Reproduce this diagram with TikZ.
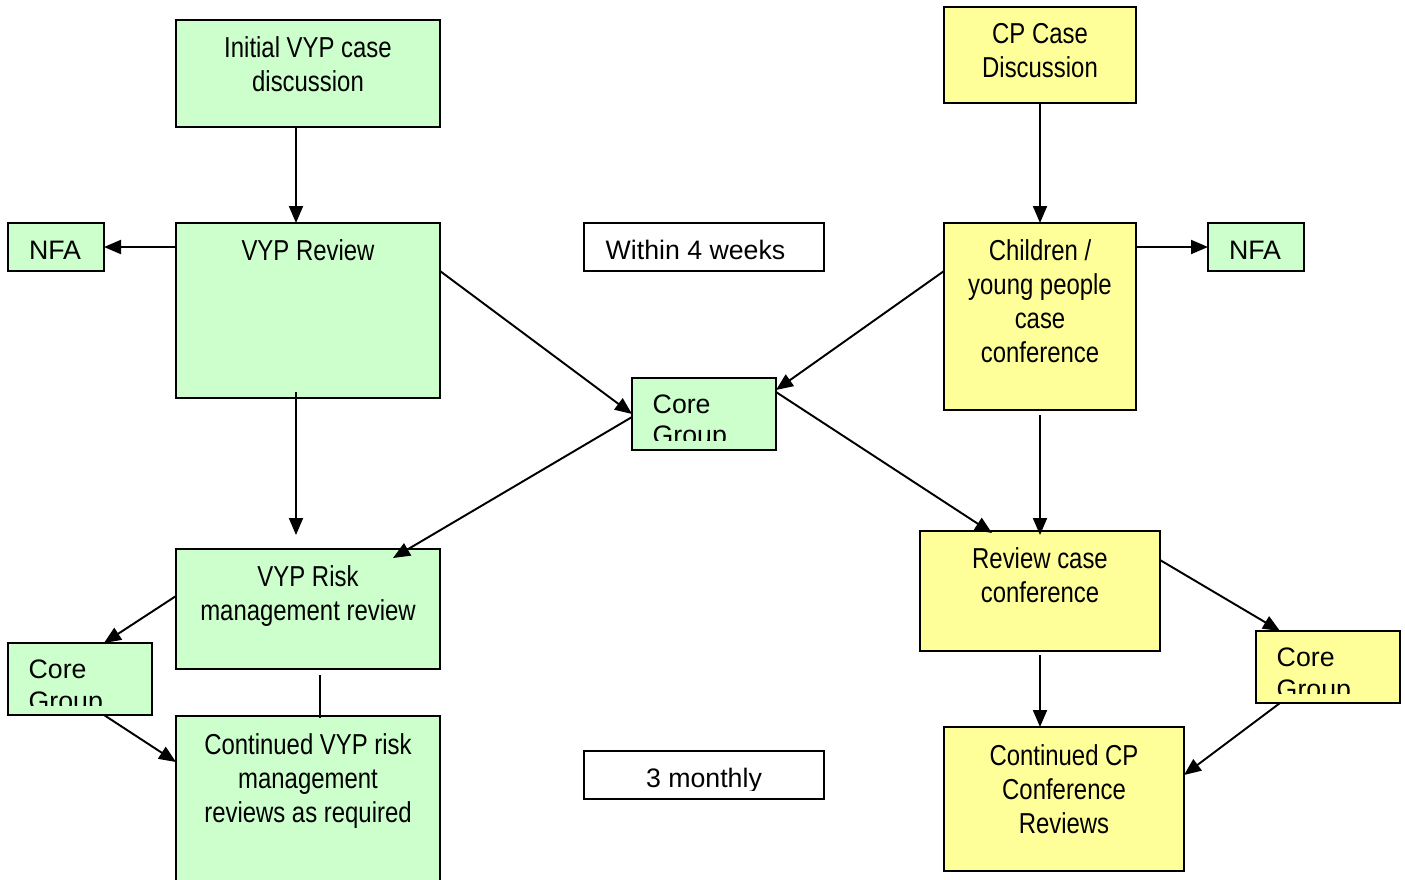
\documentclass[tikz,border=0pt]{standalone}
\usepackage{fontspec}
\setmainfont{Liberation Sans}
\newfontfamily\narrowfont[FakeStretch=0.83]{Liberation Sans}
\usetikzlibrary{arrows.meta}
\usetikzlibrary{calc}

\definecolor{vypgreen}{HTML}{CCFFCC}
\definecolor{cpyellow}{HTML}{FFFF99}

\tikzset{
  box/.style={draw, line width=0.6pt, inner sep=0pt, outer sep=0pt},
  gbox/.style={box, fill=vypgreen},
  ybox/.style={box, fill=cpyellow},
  wbox/.style={box, fill=white},
  sz/.style 2 args={minimum width=#1*0.1mm, minimum height=#2*0.1mm},
  ntext/.style={inner sep=0pt, align=center, anchor=north,
    font=\narrowfont\fontsize{8.2}{9.64}\selectfont},
  rtext/.style={inner sep=0pt, align=left, anchor=north west,
    font=\fontsize{7.6}{9}\selectfont},
  arr/.style={-{Triangle[length=1.7mm,width=1.4mm]}, line width=0.55pt},
}

\begin{document}
\begin{tikzpicture}[x=0.1mm,y=-0.1mm]
    \useasboundingbox (0,0) rectangle (1405,879);

    % VYP side
    \node[gbox, sz={264}{107}] (ivyp) at (308,73.5) {};
    \node[gbox, sz={264}{175}] (vypr) at (308,310.5) {};
    \node[gbox, sz={96}{48}]   (nfaL) at (56,247) {};
    \node[gbox, sz={264}{120}] (risk) at (308,609) {};
    \node[gbox, sz={144}{72}]  (coreL) at (80,679) {};
    \node[gbox, sz={264}{174}] (cvyp) at (308,803) {};

    % middle
    \node[wbox, sz={240}{48}]  (wk4) at (704,247) {};
    \node[gbox, sz={144}{72}]  (coreC) at (704,414) {};
    \node[wbox, sz={240}{48}]  (mon3) at (704,775) {};

    % CP side
    \node[ybox, sz={192}{96}]  (cpcd) at (1040,55) {};
    \node[ybox, sz={192}{187}] (cycc) at (1040,316.5) {};
    \node[gbox, sz={96}{48}]   (nfaR) at (1256,247) {};
    \node[ybox, sz={240}{120}] (rcc) at (1040,591) {};
    \node[ybox, sz={144}{72}]  (coreR) at (1328,667) {};
    \node[ybox, sz={240}{144}] (ccp) at (1064,799) {};

    % texts
    \node[ntext] (ivypT) at ($(ivyp.north)+(0,16)$) {Initial VYP case\\discussion};
    \node[ntext] (vyprT) at ($(vypr.north)+(0,16)$) {VYP Review};
    \node[ntext] (riskT) at ($(risk.north)+(0,16)$) {VYP Risk\\management review};
    \node[ntext] (cvypT) at ($(cvyp.north)+(0,17)$) {Continued VYP risk\\management\\reviews as required};
    \node[ntext] (cpcdT) at ($(cpcd.north)+(0,16)$) {CP Case\\Discussion};
    \node[ntext] (ccycT) at ($(cycc.north)+(0,16)$) {Children /\\young people\\case\\conference};
    \node[ntext] (rccT) at ($(rcc.north)+(0,16)$) {Review case\\conference};
    \node[ntext] (ccpT) at ($(ccp.north)+(0,17)$) {Continued CP\\Conference\\Reviews};
    \node[rtext, anchor=north] (nfaLT) at ($(nfaL.north)+(-1,17)$) {NFA};
    \node[rtext, anchor=north] (nfaRT) at ($(nfaR.north)+(-1,17)$) {NFA};
    \node[rtext] (wk4T) at ($(wk4.north west)+(21,16)$) {Within 4 weeks};

    \foreach \c in {coreC,coreL,coreR}{
      \begin{scope}
        \clip (\c.north west) rectangle ($(\c.south east)+(0,-10)$);
        \node[rtext] (\c T) at ($(\c.north west)+(20,16)$) {Core\\Group};
      \end{scope}
    }
    \begin{scope}
      \clip (mon3.north west) rectangle ($(mon3.south east)+(0,-9)$);
      \node[rtext, anchor=north] (mon3T) at ($(mon3.north)+(0,16)$) {3 monthly};
    \end{scope}

    % connectors
    \draw[arr] ($(ivyp.south)+(-12,0)$) -- ($(vypr.north)+(-12,0)$);
    \draw[arr] ($(vypr.north west)+(0,24)$) -- (nfaL.east);
    \draw[arr] ($(vypr.south)+(-12,-6)$) -- ($(risk.north)+(-12,-14)$);
    \draw[arr] ($(vypr.north east)+(0,48)$) -- (coreC.west);
    \draw[arr] ($(coreC.west)+(0,3)$) -- ($(risk.north east)+(-47,9)$);
    \draw[arr] (cpcd.south) -- (cycc.north);
    \draw[arr] ($(cycc.north east)+(0,24)$) -- (nfaR.west);
    \draw[arr] ($(cycc.north west)+(0,48)$) -- ($(coreC.north east)+(0,12)$);
    \draw[arr] ($(coreC.north east)+(0,14)$) -- ($(rcc.north west)+(72,2)$);
    \draw[arr] ($(cycc.south)+(0,5)$) -- ($(rcc.north)+(0,4)$);
    \draw[arr] ($(risk.north west)+(0,47)$) -- ($(coreL.north)+(24,0)$);
    \draw[arr] ($(coreL.south)+(24,0)$) -- ($(cvyp.north west)+(0,46)$);
    \draw[line width=0.55pt] ($(risk.south)+(12,6)$) -- ($(cvyp.north)+(12,2)$);
    \draw[arr] ($(rcc.north east)+(0,29)$) -- ($(coreR.north west)+(24,0)$);
    \draw[arr] ($(rcc.south)+(0,4)$) -- ($(ccp.north)+(-24,0)$);
    \draw[arr] ($(coreR.south west)+(24,0)$) -- ($(ccp.north east)+(0,48)$);
\end{tikzpicture}
\end{document}
